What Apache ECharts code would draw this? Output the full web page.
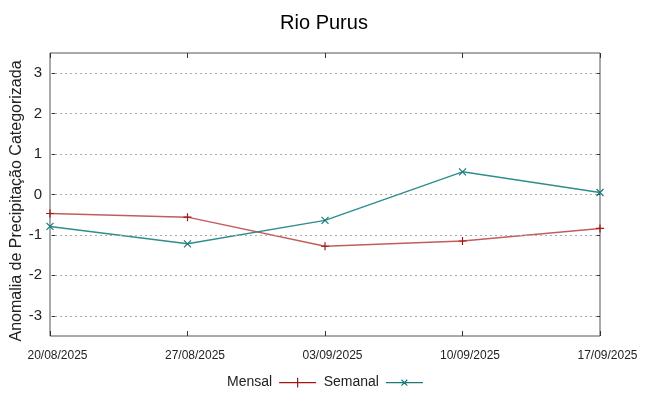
<!DOCTYPE html>
<html><head><meta charset="utf-8">
<script src="https://cdn.jsdelivr.net/npm/echarts@6/dist/echarts.min.js"></script>
<style>html,body{margin:0;padding:0;background:#fff}#c{width:648px;height:396px}</style>
</head><body><div id="c"></div>
<script>
const categories = ['20/08/2025','27/08/2025','03/09/2025','10/09/2025','17/09/2025'];
const mensal = [-0.47, -0.56, -1.28, -1.15, -0.84];
const semanal = [-0.79, -1.22, -0.64, 0.56, 0.05];
const yTicks = [-3,-2,-1,0,1,2,3];
const titleText = 'Rio Purus';
const yName = 'Anomalia de Precipitação Categorizada';

const F = 'Liberation Sans, Arial, sans-serif';
const cM = '#c45c5c', cS = '#2f8d8d';
const plusPath = 'path://M0,5L10,5M5,0L5,10';
const crossPath = 'path://M0,0L10,10M10,0L0,10';
const chart = echarts.init(document.getElementById('c'));
chart.setOption({
  animation:false,
  title:{text:titleText,left:'center',top:8,textStyle:{fontFamily:F,fontSize:20,fontWeight:'normal',color:'#000'}},
  graphic:[{type:'text',x:17,y:201,rotation:Math.PI/2,
    style:{text:yName,font:'16px Liberation Sans, Arial, sans-serif',fill:'#222',align:'center',verticalAlign:'middle'}}],
  grid:{left:50,right:48,top:53,bottom:60,show:true,borderColor:'#555',borderWidth:1,backgroundColor:'transparent',
    containLabel:false,outerBoundsMode:'none'},
  legend:{bottom:1,left:222,align:'right',itemGap:5,itemWidth:37,itemHeight:10,
    textStyle:{fontFamily:F,fontSize:14,color:'#222',padding:[0,2,0,0]},
    data:[
      {name:'Mensal',icon:'path://M0,5L38,5M19,0L19,10',itemStyle:{color:'none',borderColor:'#a01818',borderWidth:1.2}},
      {name:'Semanal',icon:'path://M0,5L38,5M16,2L22,8M22,2L16,8',itemStyle:{color:'none',borderColor:'#1a7a7a',borderWidth:1.2}}
    ]},
  xAxis:[{type:'category',data:categories,boundaryGap:false,
    axisLine:{show:false,onZero:false},axisTick:{show:true,inside:true,length:5,lineStyle:{color:'#333'}},
    axisLabel:{fontFamily:F,fontSize:12,color:'#222',margin:14,padding:[0,0,0,15]},splitLine:{show:false}},
    {type:'category',data:categories,boundaryGap:false,position:'top',axisLine:{show:false,onZero:false},
    axisTick:{show:true,inside:true,length:5,lineStyle:{color:'#333'}},axisLabel:{show:false}}],
  yAxis:[{type:'value',min:-3.5,max:3.5,interval:1,
    axisLine:{show:false,onZero:false},
    axisLabel:{fontFamily:F,fontSize:15,color:'#222',margin:8,
      customValues:yTicks,formatter:v=>String(v)},
    axisTick:{show:true,inside:true,length:5,customValues:yTicks,lineStyle:{color:'#333'}},
    splitLine:{show:false}},
    {type:'value',min:-3.5,max:3.5,position:'right',axisLine:{show:false,onZero:false},
     axisTick:{show:true,inside:true,length:5,customValues:yTicks,lineStyle:{color:'#333'}},
     axisLabel:{show:false},splitLine:{show:false}}],
  series:[
    {type:'line',name:'_grid',data:[],markLine:{silent:true,symbol:'none',label:{show:false},
      lineStyle:{color:'#aaa',type:[2,3],width:1},data:yTicks.map(v=>({yAxis:v}))}},
    {name:'Mensal',type:'line',data:mensal,symbol:plusPath,symbolSize:8,showSymbol:true,
      lineStyle:{color:cM,width:1.5},itemStyle:{color:'none',borderColor:'#a01818',borderWidth:1.2}},
    {name:'Semanal',type:'line',data:semanal,symbol:crossPath,symbolSize:7,showSymbol:true,
      lineStyle:{color:cS,width:1.5},itemStyle:{color:'none',borderColor:'#1a7a7a',borderWidth:1.2}}
  ]
});
</script></body></html>
